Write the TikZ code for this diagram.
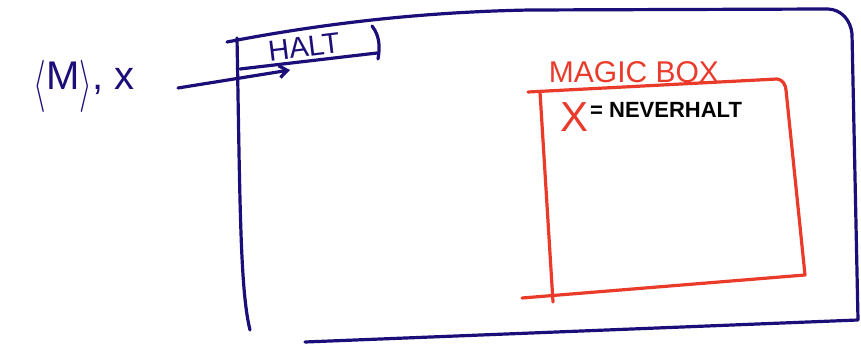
\documentclass[tikz,border=0pt]{standalone}
\usepackage{fontspec}
\setmainfont{Liberation Sans}
\usepackage{xcolor}
\usepackage{tikz}
\usetikzlibrary{arrows.meta}
\definecolor{inkblue}{RGB}{28,14,120}
\definecolor{inkred}{RGB}{234,58,42}
\def\inkw{3.2pt}
\def\tallbr#1{\raisebox{-0.25em}{\scalebox{1.3}[2.1]{\(#1\)}}}

\begin{document}
\begin{tikzpicture}[x=1pt, y=-1pt, line cap=round, line join=round,
		blueink/.style={draw=inkblue, line width=\inkw},
		redink/.style={draw=inkred, line width=\inkw},
		label/.style={inner sep=0pt, anchor=center}]
		\useasboundingbox (0,0) rectangle (861,347);
		% outer machine
		\coordinate (bl) at (250,330);
		\coordinate (tl) at (227,42);
		\coordinate (tr) at (828,9);
		\coordinate (br) at (858,320);
		\draw[blueink] (tl) .. controls (320,24) and (420,12) .. (530,10) -- (tr) to[out=-2,in=95] (852,34) -- (br) -- (305,342);
		\draw[blueink] (237,38) .. controls (240,200) and (240,290) .. (bl);
		% halt tab
		\draw[blueink] (240,69) -- (377,53);
		\draw[blueink] (372,26) .. controls (380,36) and (380,48) .. (378,59);
		\node[label, text=inkblue, font=\fontsize{29}{31}\selectfont] (halt) at (304,47) {\rotatebox{7}{HALT}};
		% input
		\node[label, text=inkblue, font=\fontsize{40}{44}\selectfont] (input) at (84,86) {\tallbr\langle M\tallbr\rangle, x};
		\coordinate (haltin) at (290,70);
		\draw[blueink, -{Straight Barb[length=8pt, width=12pt]}] (178,88) -- (haltin);
		% magic box
		\draw[redink] (528,92) -- (777,79) to[out=-5,in=95] (786,90) -- (805,275) -- (522,298);
		\draw[redink] (540,92) -- (553,302);
		\node[label, text=inkred, font=\fontsize{30}{32}\selectfont] (magic) at (634,72) {MAGIC BOX};
		\node[label, text=inkred, font=\fontsize{42}{44}\selectfont] (xin) at (574,117) {X};
		\node[label, font=\bfseries\fontsize{22}{24}\selectfont, anchor=west] (never) at (590,110) {= NEVERHALT};
	\end{tikzpicture}
\end{document}
